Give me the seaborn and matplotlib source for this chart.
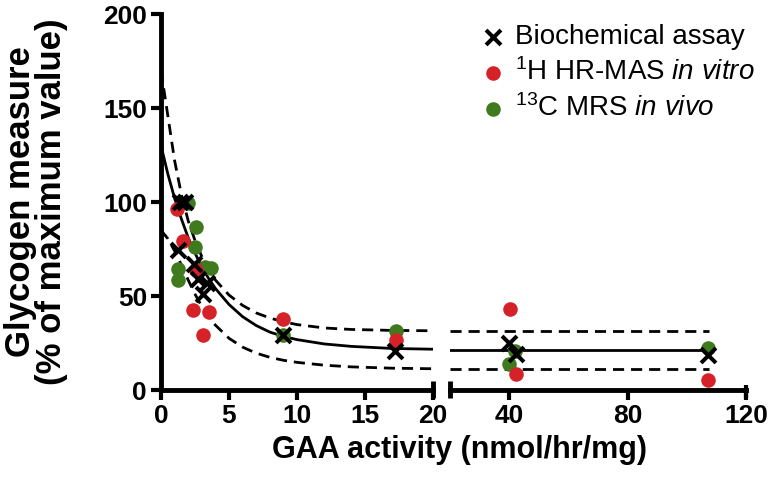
import numpy as np
import pandas as pd
import seaborn as sns
import matplotlib
matplotlib.use('Agg')
import matplotlib.pyplot as plt

# points (x = GAA activity, y = % of max glycogen)
bio_x = [1.4, 1.75, 1.25, 2.4, 2.7, 3.4, 3.1, 9.0, 17.2, 40.0, 42.4, 107.2]
bio_y = [100, 100, 74.5, 67, 59, 57, 51, 29, 20.7, 25, 19, 18.5]

hrmas_x = [1.2, 1.6, 2.6, 2.35, 3.5, 3.1, 9.0, 17.3, 40.3, 42.4, 107.2]
hrmas_y = [96.5, 79.5, 64, 42.5, 41.5, 29, 37.8, 26.6, 43, 8.5, 5.3]

mrs_x = [2.0, 2.6, 2.5, 1.25, 1.25, 3.2, 3.7, 9.0, 17.3, 40.0, 42.0, 107.2]
mrs_y = [99.5, 86.7, 76, 64.5, 58.5, 65.4, 64.8, 29.5, 31.4, 13.8, 20.7, 22.4]

# fitted curve and 95% band
curve_x = [0, 0.5, 1, 1.5, 2, 2.5, 3, 3.5, 4, 5, 6, 7, 8, 9, 10, 12, 14, 17, 20]
fit_y = [130, 115, 102, 91, 81, 72.8, 65.5, 59.3, 54, 45.5, 39, 34.3, 30.8,
         28.5, 26.8, 24.5, 23.2, 22.1, 21.7]
upper_y = [170, 146, 122, 104, 90, 79.5, 71, 64, 58.5, 50.5, 45, 41, 38.3,
           36.3, 34.8, 33, 32.2, 31.7, 31.5]
lower_y = [85, 80.5, 74, 66.5, 58.5, 51, 44.5, 39, 34.5, 27.5, 22.8, 19.6,
           17.4, 15.8, 14.7, 13.2, 12.3, 11.6, 11.3]

# plateau after the axis break
tail_x = [20, 107.5]
fit_tail = [21.5, 21.5]
upper_tail = [31.5, 31.5]
lower_tail = [11.2, 11.2]

red = '#d42228'
green = '#3f7a1e'

sns.set_style('ticks')
plt.rcParams['font.family'] = ['Liberation Sans', 'DejaVu Sans']
plt.rcParams['mathtext.fontset'] = 'custom'
plt.rcParams['mathtext.rm'] = 'Liberation Sans'
plt.rcParams['mathtext.it'] = 'Liberation Sans:italic'
for k in ['text.color', 'axes.labelcolor', 'xtick.color', 'ytick.color', 'axes.edgecolor']:
    plt.rcParams[k] = 'black'

bio = pd.DataFrame({'x': bio_x, 'y': bio_y})
hr = pd.DataFrame({'x': hrmas_x, 'y': hrmas_y})
mrs = pd.DataFrame({'x': mrs_x, 'y': mrs_y})

fig = plt.figure(figsize=(7.74, 4.82), dpi=100)
axl = fig.add_axes([161/774, 1-390/482, 272/774, 376/482])
axr = fig.add_axes([450/774, 1-390/482, 296/774, 376/482])

for ax, part in [(axl, lambda d: d[d.x <= 20]), (axr, lambda d: d[d.x > 20])]:
    sns.scatterplot(data=part(mrs), x='x', y='y', ax=ax, color=green, s=110,
                    linewidth=0, zorder=3, label=r'$^{13}$C MRS $\mathit{in\ vivo}$')
    sns.scatterplot(data=part(hr), x='x', y='y', ax=ax, color=red, s=110,
                    linewidth=0, zorder=4, label=r'$^{1}$H HR-MAS $\mathit{in\ vitro}$')
    sns.scatterplot(data=part(bio), x='x', y='y', ax=ax, color='k', marker='x', s=115,
                    linewidth=2.9, zorder=5, label='Biochemical assay')
    if ax.get_legend():
        ax.get_legend().remove()

dash = (0, (4, 2.5))
axl.plot(curve_x, fit_y, color='k', lw=2, zorder=2)
axl.plot(curve_x, upper_y, color='k', lw=2, ls=dash, zorder=2)
axl.plot(curve_x, lower_y, color='k', lw=2, ls=dash, zorder=2)
axr.plot(tail_x, fit_tail, color='k', lw=2, zorder=2)
axr.plot(tail_x, upper_tail, color='k', lw=2, ls=dash, zorder=2)
axr.plot(tail_x, lower_tail, color='k', lw=2, ls=dash, zorder=2)

axl.set_xlim(0, 20)
axl.set_ylim(0, 200)
axl.set_xticks([0, 5, 10, 15, 20])
axl.set_yticks([0, 50, 100, 150, 200])
axr.set_xlim(20, 120)
axr.set_ylim(0, 200)
axr.set_xticks([40, 80, 120])
axr.set_yticks([])

for ax in (axl, axr):
    sns.despine(ax=ax)
    ax.spines['bottom'].set_linewidth(3.5)
    ax.spines['left'].set_linewidth(3.5)
    ax.tick_params(width=3, length=7, labelsize=19, pad=3, color='black')
    for t in ax.get_xticklabels() + ax.get_yticklabels():
        t.set_fontweight('bold')
    ax.set_xlabel('')
    ax.set_ylabel('')
    ax.patch.set_alpha(0)
axr.spines['left'].set_visible(False)

# break caps
axl.plot([1, 1], [-0.02, 0.025], transform=axl.transAxes, color='k', lw=3.5,
         clip_on=False, solid_capstyle='butt')
axr.plot([0, 0], [-0.02, 0.025], transform=axr.transAxes, color='k', lw=3.5,
         clip_on=False, solid_capstyle='butt')
axr.plot([1, 1], [-0.02, 0.012], transform=axr.transAxes, color='k', lw=3,
         clip_on=False, solid_capstyle='butt')

axl.set_ylabel('Glycogen measure\n(% of maximum value)', fontsize=25,
               fontweight='bold', linespacing=0.92)
axl.yaxis.set_label_coords((68 - 161) / 272, 0.5)
fig.text(459/774, 1-450/482, 'GAA activity (nmol/hr/mg)', fontsize=22,
         fontweight='bold', ha='center', va='center')

h, l = axl.get_legend_handles_labels()
order = [2, 1, 0]
fig.legend([h[i] for i in order], [l[i] for i in order], loc='upper left',
           bbox_to_anchor=(479/774, 1-24/482), frameon=False, fontsize=20,
           handlelength=1.0, handletextpad=0.3, labelspacing=0.3,
           borderpad=0, borderaxespad=0)

fig.savefig('out.png', dpi=100)
